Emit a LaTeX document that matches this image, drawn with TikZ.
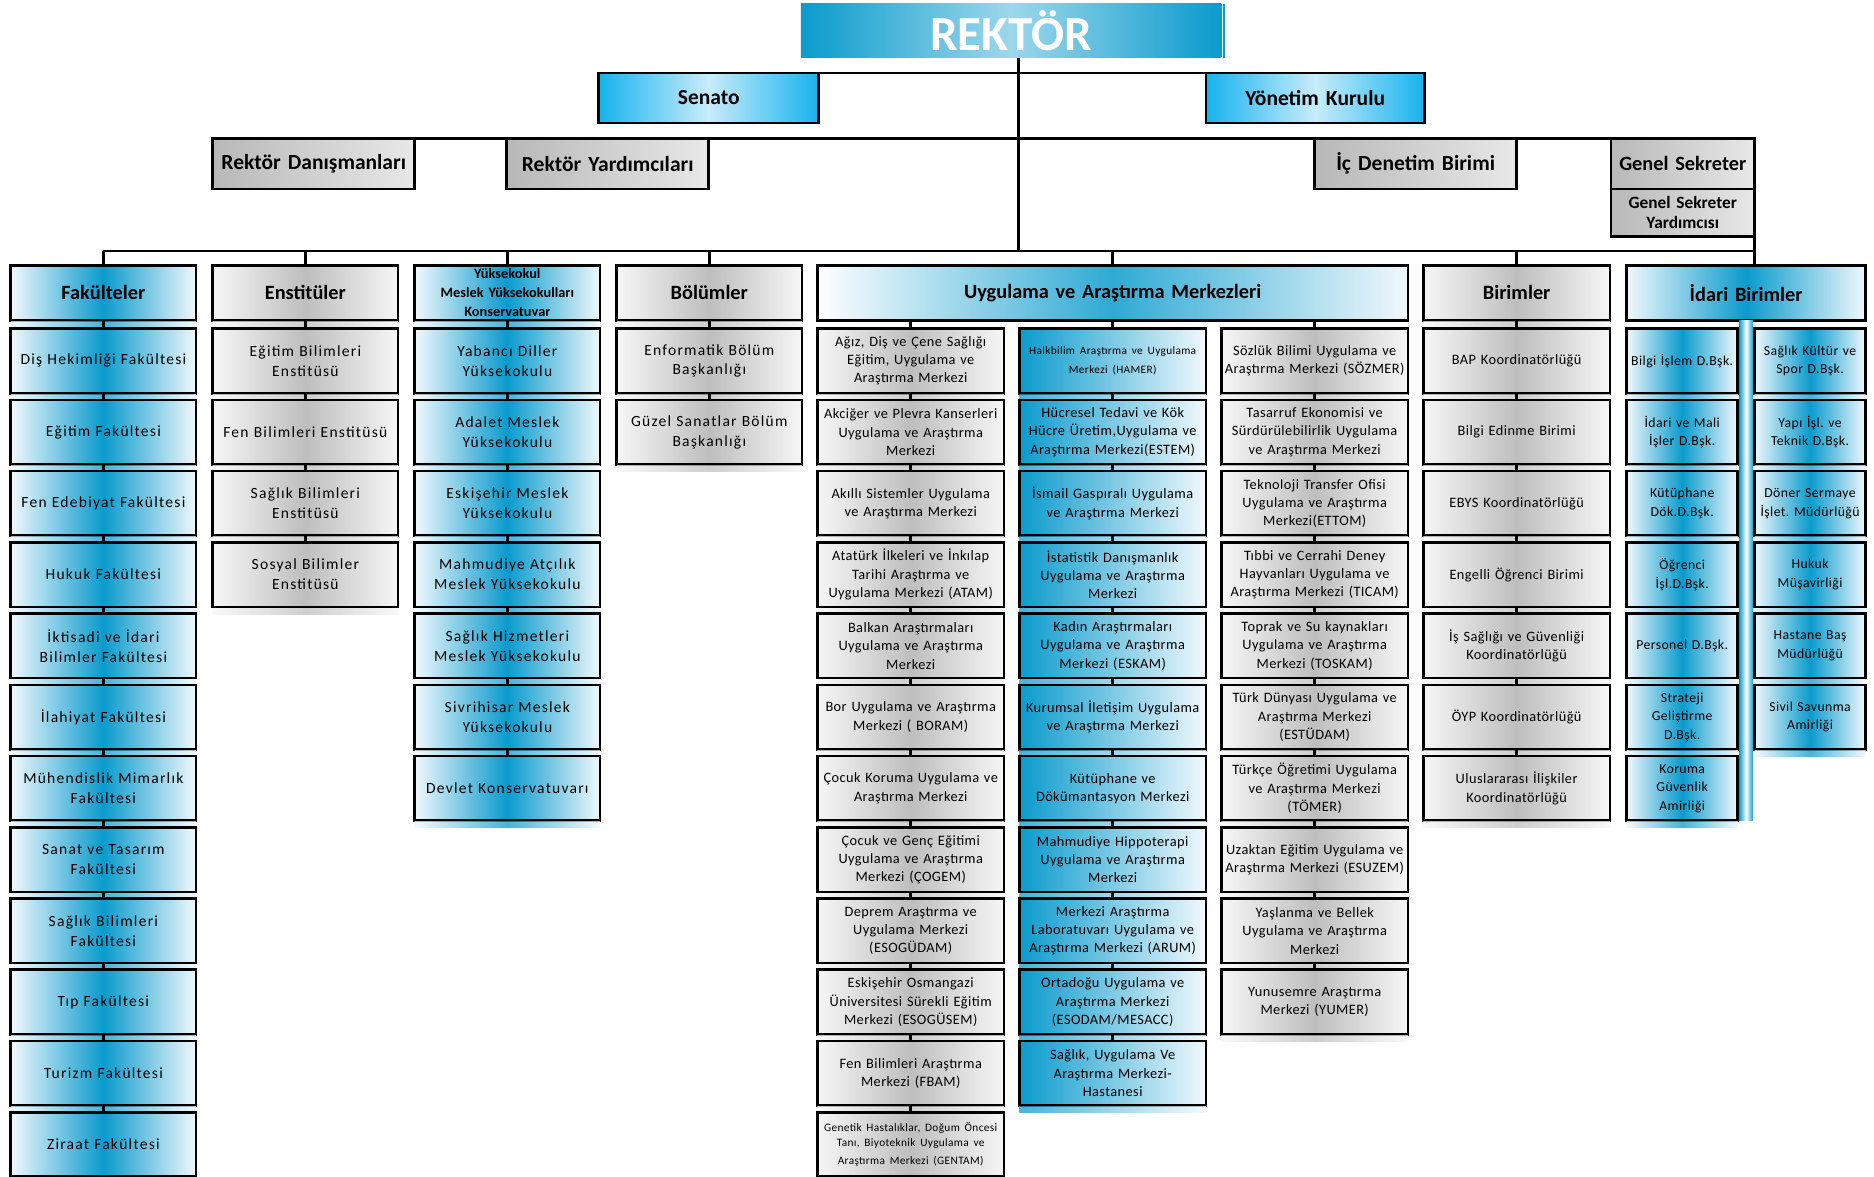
\documentclass[tikz,border=0pt]{standalone}
\usepackage{fontspec}
\setmainfont{Carlito}
\newfontfamily\widefont[LetterSpace=8]{Carlito}
\newfontfamily\mildfont[LetterSpace=3]{Carlito}
\usetikzlibrary{calc}

\definecolor{esoblue}{HTML}{0A9BCD}
\definecolor{esopale}{HTML}{F0F8FC}
\definecolor{esocyan}{HTML}{16B3EE}
\definecolor{esoice}{HTML}{C8ECFA}
\definecolor{esogray}{HTML}{BEBEBE}
\definecolor{esosilver}{HTML}{F6F6F6}

\tikzset{
  cell/.style={draw=black, line width=2.2pt, anchor=north, align=center,
    inner xsep=0pt, inner ysep=1pt, outer sep=0pt, text=black},
  head/.style={cell, minimum height=46, font=\bfseries\fontsize{17}{19}\selectfont},
  unit/.style={cell, minimum height=54},
  office/.style={cell, staffunit, minimum height=42, font=\bfseries\fontsize{18}{20}\selectfont},
  link/.style={line width=2.2pt},
  mirror/.style={fill opacity=.75},
  % shadings
  blueunit/.style={left color=esopale, right color=esopale, middle color=esoblue},
  grayunit/.style={left color=esosilver, right color=esosilver, middle color=esogray},
  bluefade/.style={left color=esoblue, right color=esopale},
  boardunit/.style={left color=esocyan, right color=esocyan, middle color=esoice},
  rektorunit/.style={left color=esoblue, right color=esoblue, middle color=esoblue!40},
  staffunit/.style={left color=black!28, right color=black!9},
  tube/.style={left color=esoblue, right color=esoblue, middle color=white},
  % texts
  wtxt/.style={font=\widefont\fontsize{13}{16.7}\selectfont},
  mtxt/.style={font=\mildfont\fontsize{12}{15.3}\selectfont},
  itxt/.style={font=\mildfont\fontsize{11.5}{15.5}\selectfont}
}

% one column of units hanging below a header
\newcommand{\unitcol}[5]{%
  \foreach \txt [count=\i, remember=\i as \j (initially 0)] in {#5} {
    \node[unit, #4, minimum width=#3, text width=#3pt] (#1-\i) at (#2, {275+59.6*(\i-1)}) {\txt};
    \path[#4, mirror] ([yshift=-1.1pt]#1-\i.south west) rectangle ([yshift=-6pt]#1-\i.south east);
    \ifnum\i>1 \draw[link] (#1-\j.south) -- (#1-\i.north); \fi
  }%
}

\begin{document}
\frenchspacing
\begin{tikzpicture}[x=1pt, y=-1pt]
\useasboundingbox (0,0) rectangle (1568,984);

% top management
\node[anchor=north, rektorunit, minimum width=352, minimum height=45, inner sep=0pt,
  text=white, font=\bfseries\fontsize{41}{44}\selectfont] (rektor) at (846,3) {REKTÖR};
\draw[esoblue, line width=1pt] ([xshift=2pt]rektor.north east) -- ([xshift=2pt]rektor.south east);
\coordinate (hub) at (852,210);

\node[cell, boardunit, minimum width=184, text width=184pt, minimum height=42,
  font=\bfseries\fontsize{18}{20}\selectfont] (senato) at (593,61) {Senato};
\node[cell, boardunit, minimum width=183, text width=183pt, minimum height=42,
  font=\bfseries\fontsize{18}{20}\selectfont] (yonetim) at (1100.5,61) {Yönetim Kurulu};

\node[office, minimum width=169, text width=169pt] (danisman) at (262.5,116) {Rektör Danışmanları};
\node[office, minimum width=169, text width=169pt] (yardimci) at (508.5,116) {Rektör Yardımcıları};
\node[office, minimum width=169, text width=169pt] (denetim) at (1184.5,116) {İç Denetim Birimi};
\node[office, minimum width=120, text width=120pt, font=\bfseries\fontsize{17}{19}\selectfont] (gensek) at (1408,116) {Genel Sekreter};
\node[cell, staffunit, minimum width=120, text width=120pt, minimum height=40,
  font=\bfseries\fontsize{14.5}{16.5}\selectfont] (gsy) at (gensek.south) {Genel Sekreter\\Yardımcısı};

\draw[link] (rektor.south -| hub) -- (hub);
\draw[link] (senato.north east) -- (yonetim.north west);
\draw[link] (danisman.north west) -- (gensek.north east);

% column headers
\node[head, blueunit, minimum width=155, text width=155pt] (fak) at (86.5,222) {Fakülteler};
\node[head, grayunit, minimum width=155, text width=155pt] (ens) at (255.5,222) {Enstitüler};
\node[head, blueunit, minimum width=155, text width=155pt,
  font=\bfseries\fontsize{12}{15.8}\selectfont] (yuk) at (424.5,222)
  {Yüksekokul\\Meslek Yüksekokulları\\Konservatuvar};
\node[head, grayunit, minimum width=155, text width=155pt] (bol) at (593.5,222) {Bölümler};
\node[head, left color=white, right color=esopale, middle color=esoblue!85,
  minimum width=494, text width=494pt] (uam) at (931,222) {Uygulama ve Araştırma Merkezleri};
\node[head, grayunit, minimum width=156, text width=156pt] (bir) at (1269,222) {Birimler};
\node[head, blueunit, minimum width=200, text width=200pt] (idari) at (1461,222) {İdari Birimler};

\foreach \h/\s in {fak/blueunit, ens/grayunit, yuk/blueunit, bol/grayunit, bir/grayunit}
  \path[\s, mirror] ([yshift=-1.1pt]\h.south west) rectangle ([yshift=-6pt]\h.south east);

\draw[link] (fak.north |- hub) -- (hub -| gsy.south east);
\draw[link] (gsy.south east) -- (gsy.south east |- idari.north);
\foreach \h in {fak, ens, yuk, bol, uam, bir}
  \draw[link] (\h.north |- hub) -- (\h.north);

% columns
\unitcol{fak}{86.5}{155}{blueunit, wtxt}{Diş Hekimliği Fakültesi, Eğitim Fakültesi,
  Fen Edebiyat Fakültesi, Hukuk Fakültesi, İktisadi ve İdari\\Bilimler Fakültesi,
  İlahiyat Fakültesi, Mühendislik Mimarlık\\Fakültesi, Sanat ve Tasarım\\Fakültesi,
  Sağlık Bilimleri\\Fakültesi, Tıp Fakültesi, Turizm Fakültesi, Ziraat Fakültesi}
\unitcol{ens}{255.5}{155}{grayunit, wtxt}{Eğitim Bilimleri\\Enstitüsü,
  Fen Bilimleri Enstitüsü, Sağlık Bilimleri\\Enstitüsü, Sosyal Bilimler\\Enstitüsü}
\unitcol{yuk}{424.5}{155}{blueunit, wtxt}{Yabancı Diller\\Yüksekokulu,
  Adalet Meslek\\Yüksekokulu, Eskişehir Meslek\\Yüksekokulu,
  Mahmudiye Atçılık\\Meslek Yüksekokulu, Sağlık Hizmetleri\\Meslek Yüksekokulu,
  Sivrihisar Meslek\\Yüksekokulu, Devlet Konservatuvarı}
\unitcol{bol}{593.5}{155}{grayunit, wtxt}{Enformatik Bölüm\\Başkanlığı,
  Güzel Sanatlar Bölüm\\Başkanlığı}

\unitcol{uama}{762}{156}{grayunit, mtxt}{{Ağız, Diş ve Çene Sağlığı\\Eğitim, Uygulama ve\\Araştırma Merkezi},
  Akciğer ve Plevra Kanserleri\\Uygulama ve Araştırma\\Merkezi,
  Akıllı Sistemler Uygulama\\ve Araştırma Merkezi,
  Atatürk İlkeleri ve İnkılap\\Tarihi Araştırma ve\\Uygulama Merkezi (ATAM),
  Balkan Araştırmaları\\Uygulama ve Araştırma\\Merkezi,
  Bor Uygulama ve Araştırma\\Merkezi ( BORAM),
  Çocuk Koruma Uygulama ve\\Araştırma Merkezi,
  Çocuk ve Genç Eğitimi\\Uygulama ve Araştırma\\Merkezi (ÇOGEM),
  Deprem Araştırma ve\\Uygulama Merkezi\\(ESOGÜDAM),
  Eskişehir Osmangazi\\Üniversitesi Sürekli Eğitim\\Merkezi (ESOGÜSEM),
  Fen Bilimleri Araştırma\\Merkezi (FBAM),
  {\fontsize{9.5}{12.8}\selectfont Genetik Hastalıklar, Doğum Öncesi\\Tanı, Biyoteknik Uygulama ve\\Araştırma Merkezi (GENTAM)}}
\unitcol{uamb}{931}{156}{bluefade, mtxt}{{\fontsize{9.5}{12}\selectfont Halkbilim Araştırma ve Uygulama\\Merkezi (HAMER)},
  {Hücresel Tedavi ve Kök\\Hücre Üretim,Uygulama ve\\Araştırma Merkezi(ESTEM)},
  İsmail Gaspıralı Uygulama\\ve Araştırma Merkezi,
  İstatistik Danışmanlık\\Uygulama ve Araştırma\\Merkezi,
  Kadın Araştırmaları\\Uygulama ve Araştırma\\Merkezi (ESKAM),
  Kurumsal İletişim Uygulama\\ve Araştırma Merkezi,
  Kütüphane ve\\Dökümantasyon Merkezi,
  Mahmudiye Hippoterapi\\Uygulama ve Araştırma\\Merkezi,
  Merkezi Araştırma\\Laboratuvarı Uygulama ve\\Araştırma Merkezi (ARUM),
  Ortadoğu Uygulama ve\\Araştırma Merkezi\\(ESODAM/MESACC),
  {Sağlık, Uygulama Ve\\Araştırma Merkezi-\\Hastanesi}}
\unitcol{uamc}{1100}{156}{grayunit, mtxt}{Sözlük Bilimi Uygulama ve\\Araştırma Merkezi (SÖZMER),
  Tasarruf Ekonomisi ve\\Sürdürülebilirlik Uygulama\\ve Araştırma Merkezi,
  Teknoloji Transfer Ofisi\\Uygulama ve Araştırma\\Merkezi(ETTOM),
  Tıbbi ve Cerrahi Deney\\Hayvanları Uygulama ve\\Araştırma Merkezi (TICAM),
  Toprak ve Su kaynakları\\Uygulama ve Araştırma\\Merkezi (TOSKAM),
  Türk Dünyası Uygulama ve\\Araştırma Merkezi\\(ESTÜDAM),
  Türkçe Öğretimi Uygulama\\ve Araştırma Merkezi\\(TÖMER),
  Uzaktan Eğitim Uygulama ve\\Araştırma Merkezi (ESUZEM),
  Yaşlanma ve Bellek\\Uygulama ve Araştırma\\Merkezi,
  Yunusemre Araştırma\\Merkezi (YUMER)}
\foreach \h in {uama, uamb, uamc}
  \draw[link] (\h-1.north |- uam.south) -- (\h-1.north);

\unitcol{bir}{1269}{156}{grayunit, mtxt}{BAP Koordinatörlüğü, Bilgi Edinme Birimi,
  EBYS Koordinatörlüğü, Engelli Öğrenci Birimi, İş Sağlığı ve Güvenliği\\Koordinatörlüğü,
  ÖYP Koordinatörlüğü, Uluslararası İlişkiler\\Koordinatörlüğü}

\foreach \h in {fak, ens, yuk, bol, bir}
  \draw[link] (\h.south) -- (\h-1.north);

% idari birimler, two half columns round a tube
\foreach \txt [count=\i] in {Bilgi İşlem D.Bşk., İdari ve Mali\\İşler D.Bşk.,
  Kütüphane\\Dök.D.Bşk., Öğrenci\\İşl.D.Bşk., Personel D.Bşk.,
  Strateji\\Geliştirme\\D.Bşk., Koruma\\Güvenlik\\Amirliği} {
  \node[unit, blueunit, itxt, minimum width=93, text width=93pt] (idaril-\i) at (1407.5, {275+59.6*(\i-1)}) {\txt};
  \path[blueunit, mirror] ([yshift=-1.1pt]idaril-\i.south west) rectangle ([yshift=-6pt]idaril-\i.south east);
}
\foreach \txt [count=\i] in {Sağlık Kültür ve\\Spor D.Bşk., Yapı İşl. ve\\Teknik D.Bşk.,
  Döner Sermaye\\İşlet. Müdürlüğü, Hukuk\\Müşavirliği, Hastane Baş\\Müdürlüğü,
  Sivil Savunma\\Amirliği} {
  \node[unit, blueunit, itxt, minimum width=93, text width=93pt] (idarir-\i) at (1514.5, {275+59.6*(\i-1)}) {\txt};
  \path[blueunit, mirror] ([yshift=-1.1pt]idarir-\i.south west) rectangle ([yshift=-6pt]idarir-\i.south east);
}
\shade[tube] ([xshift=1.1pt]idaril-1.north east |- idari.south) rectangle ([xshift=-1.1pt]idarir-1.north west |- idaril-7.south);
\end{tikzpicture}
\end{document}
